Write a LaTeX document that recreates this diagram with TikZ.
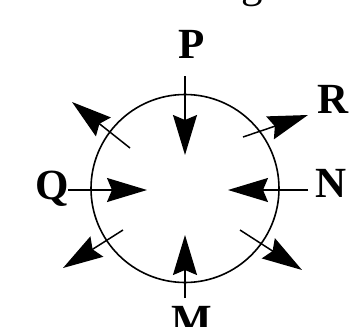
\documentclass[tikz,border=0pt]{standalone}
\usepackage{fontspec}
\setmainfont{Liberation Serif}
\usetikzlibrary{arrows.meta}
\begin{document}
\begin{tikzpicture}[x=1pt,y=-1pt,
  lbl/.style={font=\fontsize{43}{43}\selectfont\bfseries, anchor=base, inner sep=0pt},
  arr/.style={line width=1.5pt, -{Stealth[length=40pt,width=24pt,inset=5pt]}},
  ring/.style={line width=1.6pt}]
\clip (0,0) rectangle (362,327);
\fill[white] (0,0) rectangle (362,327);
% partial text at top
\node[font=\fontsize{43}{43}\selectfont, anchor=base, inner sep=0pt] (g) at (252,-2.5) {g};
% circle
\coordinate (c) at (185,188.5);
\draw[ring] (c) circle[radius=94pt];
% labels
\node[lbl] (P) at (191.5,58) {P};
\node[lbl] (R) at (333,113) {R};
\node[lbl] (Q) at (52.5,199) {Q};
\node[lbl] (N) at (331.5,197) {N};
\node[lbl] (M) at (191.5,334) {M};
% arrow end points
\coordinate (pt) at (185,76);   \coordinate (ph) at (185,155);
\coordinate (mt) at (185,298);  \coordinate (mh) at (185,235);
\coordinate (qt) at (68,190);   \coordinate (qh) at (147,190);
\coordinate (nt) at (308,190);  \coordinate (nh) at (228,190);
\coordinate (ult) at (130,148); \coordinate (ulh) at (72,102);
\coordinate (urt) at (243,137); \coordinate (urh) at (308,115);
\coordinate (llt) at (123,230); \coordinate (llh) at (63,268);
\coordinate (lrt) at (240,230); \coordinate (lrh) at (302,270);
% arrows
\draw[arr] (pt) -- (ph);
\draw[arr] (mt) -- (mh);
\draw[arr] (qt) -- (qh);
\draw[arr] (nt) -- (nh);
\draw[arr] (ult) -- (ulh);
\draw[arr] (urt) -- (urh);
\draw[arr] (llt) -- (llh);
\draw[arr] (lrt) -- (lrh);
\end{tikzpicture}
\end{document}
